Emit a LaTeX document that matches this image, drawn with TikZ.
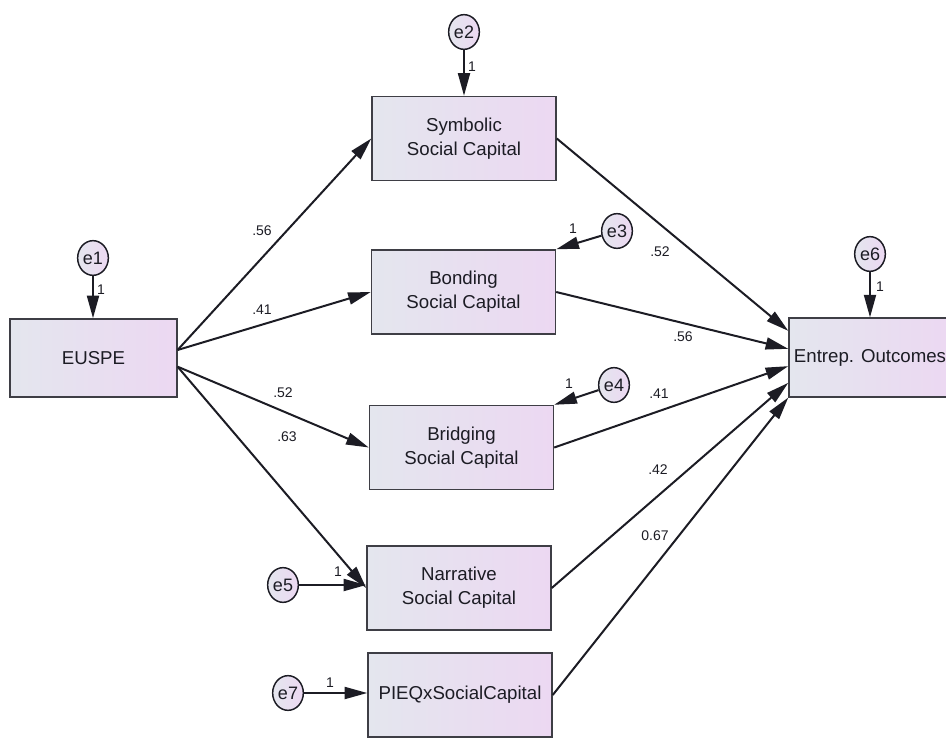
\documentclass[tikz,border=0pt]{standalone}
\usepackage{fontspec}
\setmainfont{Liberation Sans}
\usetikzlibrary{arrows.meta,shapes.geometric}
\definecolor{box-left}{RGB}{228,230,238}
\definecolor{box-right}{RGB}{236,216,242}
\definecolor{ink}{RGB}{28,28,36}
\tikzset{
    var-box/.style = {draw=ink!85, line width=1.1pt, rectangle, left color=box-left, right color=box-right, minimum width=138pt, minimum height=63pt, align=center, text=ink, font=\fontsize{14}{18}\selectfont},
    err-circle/.style = {draw=ink, line width=1.1pt, ellipse, left color=box-left, right color=box-right, minimum width=23pt, minimum height=26pt, inner sep=0pt, text=ink, font=\fontsize{13.5}{16}\selectfont},
    path-arrow/.style = {draw=ink, line width=1.5pt, -{Triangle[length=17pt, width=9pt]}},
    coef-label/.style = {text=ink, inner sep=0pt, font=\fontsize{10.5}{12}\selectfont},
}

\begin{document}
\begin{tikzpicture}[x=0.75pt, y=-0.75pt]
\useasboundingbox (0,0) rectangle (946,738);
% observed variables
\node[var-box, minimum width=125pt, minimum height=58.5pt] (euspe) at (93.5,358) {EUSPE};
\node[var-box] (sym) at (464,138.5) {Symbolic\\Social Capital};
\node[var-box] (bond) at (463.5,292) {Bonding\\Social Capital};
\node[var-box] (bridg) at (461.5,447.5) {Bridging\\Social Capital};
\node[var-box] (narr) at (459,588) {Narrative\\Social Capital};
\node[var-box] (pieq) at (460,695) {PIEQxSocialCapital};
\node[var-box, minimum width=121.5pt, minimum height=59pt, inner xsep=0pt] (entrep) at (870,357.5) {Entrep. Outcomes};
% error terms
\node[err-circle] (e1) at (93,258) {e1};
\node[err-circle] (e2) at (464,32) {e2};
\node[err-circle] (e3) at (617,231) {e3};
\node[err-circle] (e4) at (614,385) {e4};
\node[err-circle] (e5) at (283,585) {e5};
\node[err-circle] (e6) at (870,254) {e6};
\node[err-circle] (e7) at (288,693) {e7};
% error paths
\draw[path-arrow] (e1.south) -- (e1.south |- euspe.north);
\draw[path-arrow] (e2.south) -- (e2.south |- sym.north);
\draw[path-arrow] (e3) -- (bond.north east);
\draw[path-arrow] (e4) -- (bridg.north east);
\draw[path-arrow] (e5) -- (e5 -| narr.west);
\draw[path-arrow] (e6) -- (e6 |- entrep.north);
\draw[path-arrow] (e7) -- (e7 -| pieq.west);
% structural paths
\draw[path-arrow] ([yshift=6pt]euspe.east) -- (sym.west);
\draw[path-arrow] ([yshift=6pt]euspe.east) -- (bond.west);
\draw[path-arrow] ([yshift=-6.5pt]euspe.east) -- (bridg.west);
\draw[path-arrow] ([yshift=-6.5pt]euspe.east) -- (narr.west);
\draw[path-arrow] (sym.east) -- ([yshift=20pt]entrep.west);
\draw[path-arrow] (bond.east) -- ([yshift=6.5pt]entrep.west);
\draw[path-arrow] (bridg.east) -- ([yshift=-6.5pt]entrep.west);
\draw[path-arrow] (narr.east) -- ([yshift=-19pt]entrep.west);
\draw[path-arrow] (pieq.east) -- (entrep.south west);
% coefficients
\node[coef-label] (c-sym) at (262,231) {.56};
\node[coef-label] (c-bond) at (262,310) {.41};
\node[coef-label] (c-bridg) at (283,393) {.52};
\node[coef-label] (c-narr) at (287,437) {.63};
\node[coef-label] (d-sym) at (660,252) {.52};
\node[coef-label] (d-bond) at (683,337) {.56};
\node[coef-label] (d-bridg) at (659,394) {.41};
\node[coef-label] (d-narr) at (658,470) {.42};
\node[coef-label] (d-pieq) at (655,536) {0.67};
% fixed loadings
\node[coef-label] (w1) at (101,290) {1};
\node[coef-label] (w2) at (472,67) {1};
\node[coef-label] (w3) at (573,229) {1};
\node[coef-label] (w4) at (569,384) {1};
\node[coef-label] (w5) at (338,572) {1};
\node[coef-label] (w6) at (880,287) {1};
\node[coef-label] (w7) at (330,683) {1};
\end{tikzpicture}
\end{document}
